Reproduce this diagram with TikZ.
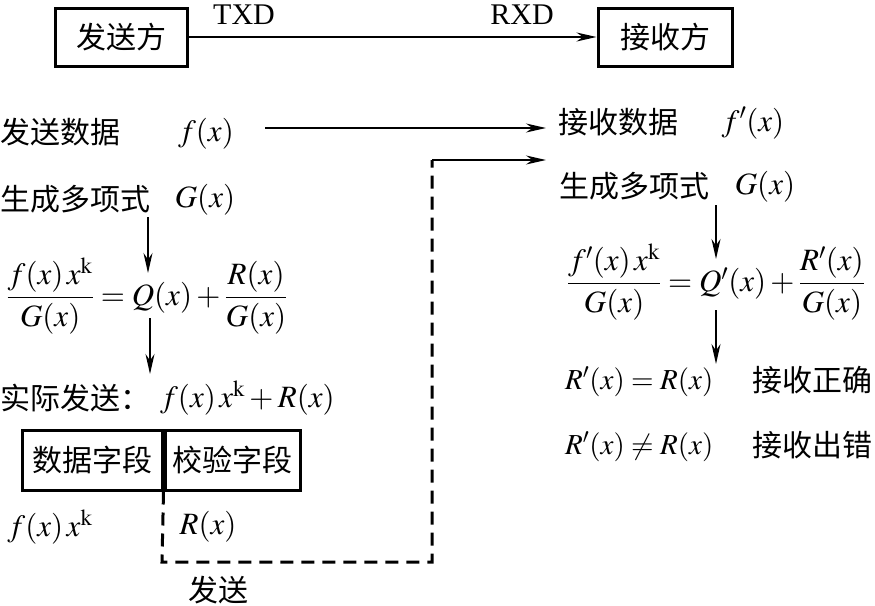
\documentclass[tikz,border=0pt]{standalone}
\usepackage{amsmath}
\usepackage{mathptmx}
\usepackage{fontspec}
\setmainfont{Liberation Serif}
\newfontfamily\cjk{Noto Sans CJK SC}
\usetikzlibrary{arrows.meta}
\tikzset{
  cn/.style={font=\cjk\fontsize{30}{33}\selectfont, inner sep=0pt},
  mth/.style={font=\fontsize{31}{35}\selectfont, inner sep=0pt},
  mths/.style={font=\fontsize{29}{33}\selectfont, inner sep=0pt},
  lbl/.style={font=\fontsize{30}{33}\selectfont, inner sep=0pt},
  boxed/.style={draw, line width=3pt, inner sep=0pt},
  arr/.style={line width=2pt, -{Stealth[length=20pt,width=9pt]}},
  dsh/.style={line width=3pt, dash pattern=on 13pt off 8pt},
}
\begin{document}
\begin{tikzpicture}[x=1pt,y=-1pt]
\useasboundingbox (0,0) rectangle (875,605);
% top
\node[boxed, cn, minimum width=132pt, minimum height=58pt] (snd) at (121,37) {发送方};
\node[boxed, cn, minimum width=134pt, minimum height=58pt] (rcv) at (665,37) {接收方};
\draw[arr] (snd.east) -- (rcv.west);
\node[lbl] (txd) at (244,15) {TXD};
\node[lbl] (rxd) at (522,15) {RXD};
% left column
\node[cn, anchor=west] (sdata) at (0,132) {发送数据};
\node[mth] (sfx) at (206,134) {$f(x)$};
\node[cn, anchor=west] (sgen) at (0,199) {生成多项式};
\node[mth] (sG) at (205,200) {$G(x)$};
\node[mth] (sfrac) at (147,296) {$\dfrac{f(x)\,x^{\mathrm{k}}}{G(x)}=Q(x)+\dfrac{R(x)}{G(x)}$};
\node[cn, anchor=west] (actual) at (0,398) {实际发送：};
\node[mth, anchor=west] (actexpr) at (160,398) {$f(x)\,x^{\mathrm{k}}+R(x)$};
\node[boxed, cn, minimum width=140pt, minimum height=60pt] (fieldA) at (92,460) {数据字段};
\node[boxed, cn, minimum width=135pt, minimum height=60pt, anchor=west] (fieldB) at (fieldA.east) {校验字段};
\node[mth] (fxk) at (50,527) {$f(x)\,x^{\mathrm{k}}$};
\node[mth] (rx) at (208,527) {$R(x)$};
\node[cn] (send) at (218,590) {发送};
\coordinate (a1) at (148,217);
\coordinate (a2) at (148,273);
\draw[arr] (a1) -- (a2);
\coordinate (b1) at (150,318);
\coordinate (b2) at (150,374);
\draw[arr] (b1) -- (b2);
% right column
\node[cn, anchor=west] (rdata) at (558,122) {接收数据};
\node[mth] (rfx) at (753,123) {$f'(x)$};
\node[cn, anchor=west] (rgen) at (559,186) {生成多项式};
\node[mth] (rG) at (765,187) {$G(x)$};
\node[mth] (rfrac) at (716,282) {$\dfrac{f'(x)\,x^{\mathrm{k}}}{G(x)}=Q'(x)+\dfrac{R'(x)}{G(x)}$};
\node[mths, anchor=west] (ok) at (565,382) {$R'(x)=R(x)$};
\node[cn, anchor=west] (okl) at (752,380) {接收正确};
\node[mths, anchor=west] (err) at (565,447) {$R'(x)\neq R(x)$};
\node[cn, anchor=west] (errl) at (752,445) {接收出错};
\coordinate (c1) at (716,205);
\coordinate (c2) at (716,259);
\draw[arr] (c1) -- (c2);
\coordinate (e1) at (716,310);
\coordinate (e2) at (716,364);
\draw[arr] (e1) -- (e2);
% data arrow
\coordinate (f1) at (265,128);
\draw[arr, shorten >=12pt] (f1) -- (f1 -| rdata.west);
% dashed send path
\coordinate (g1) at (162,562);
\coordinate (g2) at (432,562);
\coordinate (g3) at (432,160);
\draw[dsh] (fieldB.south west) -- (g1) -- (g2) -- (g3);
\draw[arr, shorten >=12pt] (g3) -- (g3 -| rdata.west);
\end{tikzpicture}
\end{document}
